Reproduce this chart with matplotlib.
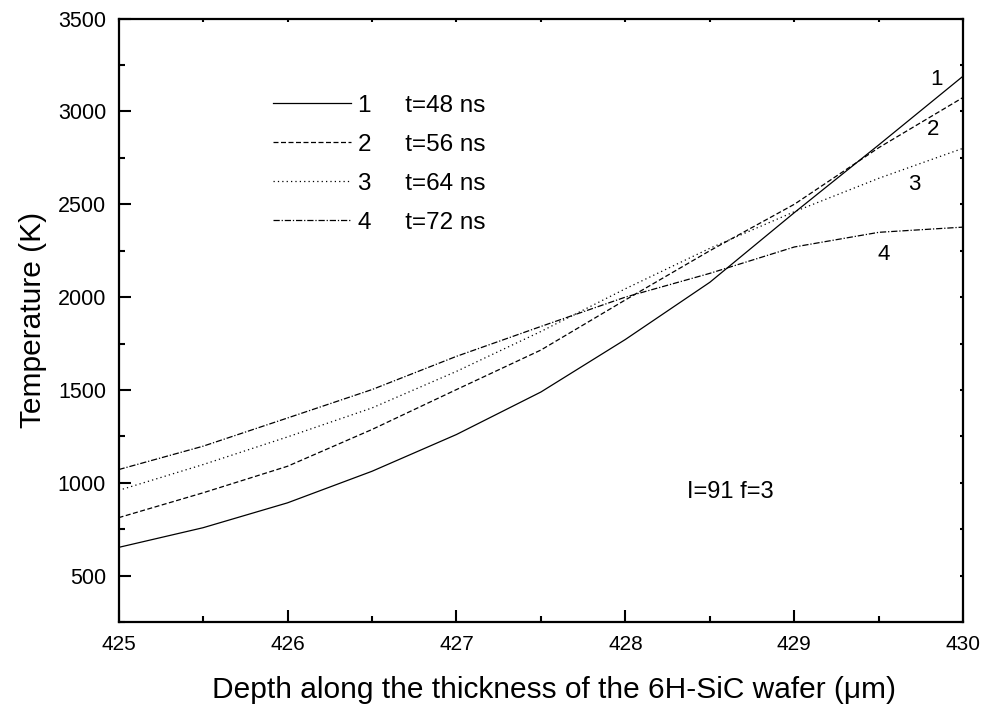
import numpy as np
import matplotlib
matplotlib.use('Agg')
import matplotlib.pyplot as plt
from matplotlib.ticker import MultipleLocator

plt.rcParams['font.family'] = ['Liberation Sans', 'DejaVu Sans']
plt.rcParams['xtick.labelsize'] = 15
plt.rcParams['ytick.labelsize'] = 15.5

# depth positions (um)
depth = [425.0, 425.5, 426.0, 426.5, 427.0, 427.5, 428.0, 428.5, 429.0, 429.5, 430.0]

# temperature (K) for each time
temp_48 = [652, 758, 892, 1062, 1260, 1489, 1772, 2080, 2455, 2820, 3191]
temp_56 = [812, 946, 1089, 1287, 1502, 1715, 1985, 2250, 2500, 2805, 3076]
temp_64 = [959, 1098, 1247, 1403, 1600, 1815, 2045, 2263, 2460, 2640, 2802]
temp_72 = [1071, 1197, 1349, 1502, 1681, 1842, 2000, 2128, 2270, 2349, 2377]

labels = ['1     t=48 ns', '2     t=56 ns', '3     t=64 ns', '4     t=72 ns']
styles = ['-', (0, (4, 2)), (0, (1, 2.5)), (0, (5, 1.5, 1, 1.5))]
series = [temp_48, temp_56, temp_64, temp_72]

fig = plt.figure(figsize=(9.88, 7.15), dpi=100)
ax = fig.add_axes([0.120, 0.130, 0.855, 0.844])

for vals, ls, lab in zip(series, styles, labels):
    ax.plot(depth, vals, color='black', linestyle=ls, linewidth=0.9, label=lab)

ax.set_xlim(425, 430)
ax.set_ylim(250, 3500)
ax.xaxis.set_major_locator(MultipleLocator(1))
ax.xaxis.set_minor_locator(MultipleLocator(0.5))
ax.yaxis.set_major_locator(MultipleLocator(500))
ax.yaxis.set_minor_locator(MultipleLocator(250))
ax.tick_params(which='both', direction='in', top=True, right=True, width=1.5)
ax.tick_params(which='major', length=8.5, pad=9)
ax.tick_params(which='minor', length=4.5)
for t in ax.xaxis.get_major_ticks() + ax.xaxis.get_minor_ticks():
    t.tick2line.set_markersize(2)
for t in ax.yaxis.get_major_ticks() + ax.yaxis.get_minor_ticks():
    t.tick2line.set_markersize(2)
for s in ax.spines.values():
    s.set_linewidth(1.6)

ax.set_xlabel('Depth along the thickness of the 6H-SiC wafer (\u03bcm)', fontsize=21.5, labelpad=10)
ax.xaxis.set_label_coords(0.515, -0.09)
ax.set_ylabel('Temperature (K)', fontsize=21.5, labelpad=8)

ax.legend(loc='upper left', bbox_to_anchor=(0.157, 0.91), frameon=False, fontsize=17.5,
          handlelength=3.2, handletextpad=0.3, labelspacing=0.7)

# curve numbers near the right end
ax.text(429.84, 3170, '1', fontsize=16, ha='center', va='center')
ax.text(429.82, 2900, '2', fontsize=16, ha='center', va='center')
ax.text(429.71, 2606, '3', fontsize=16, ha='center', va='center')
ax.text(429.53, 2230, '4', fontsize=16, ha='center', va='center')
ax.text(428.62, 949, 'I=91 f=3', fontsize=17, ha='center', va='center')

fig.savefig('out.png', dpi=100)
